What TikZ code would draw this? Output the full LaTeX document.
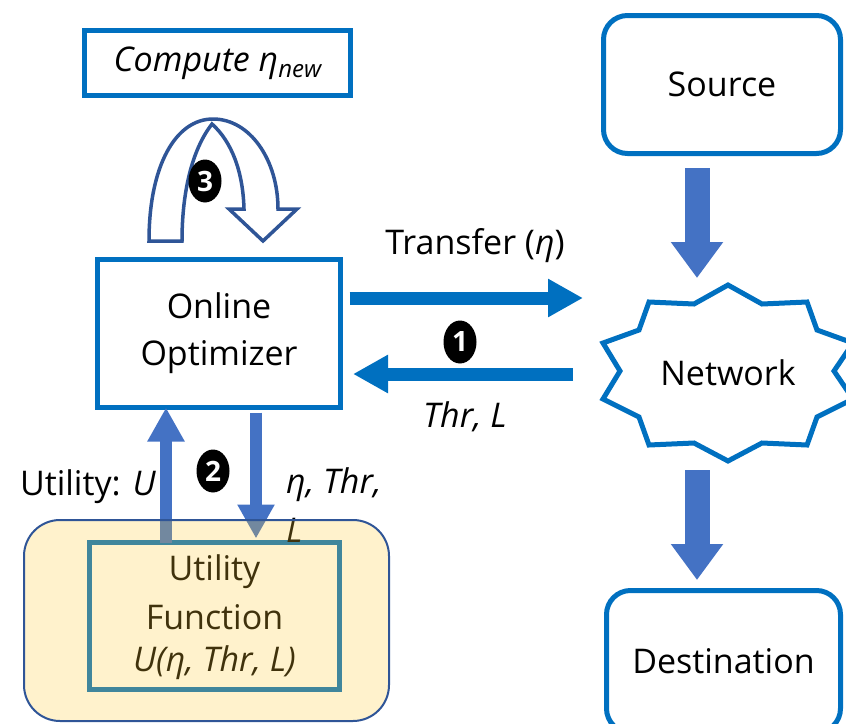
\documentclass[tikz,border=0pt]{standalone}
\usepackage{fontspec}
\setmainfont{Open Sans}
\usetikzlibrary{arrows.meta,shapes.geometric,calc}
\definecolor{boxblue}{HTML}{0070C0}
\definecolor{arrblue}{HTML}{4472C4}
\definecolor{darkblue}{HTML}{2F5597}
\definecolor{yellowov}{HTML}{FFCB33}
\begin{document}
\begin{tikzpicture}[x=1pt,y=-1pt,
  every node/.style={font=\fontsize{34}{47}\selectfont, text=black},
  bluebox/.style={draw=boxblue, line width=5pt, inner sep=0pt, outer sep=0pt, align=center},
  roundbox/.style={bluebox, rounded corners=24pt},
  fatarrow/.style={draw=arrblue, line width=25pt, -{Triangle[length=36pt,width=50pt]}},
  midarrow/.style={draw=arrblue, line width=12pt, -{Triangle[length=34pt,width=35pt]}},
  flowarrow/.style={draw=boxblue, line width=13pt, -{Triangle[length=35pt,width=36pt]}},
  badge/.style={ellipse, fill=black, minimum width=33pt, minimum height=43pt, inner sep=0pt,
     text=white, font=\fontsize{28}{28}\selectfont\bfseries},
  lbl/.style={inner sep=0pt}
]
\useasboundingbox (0,0) rectangle (846,723);

% nodes
\node[bluebox, minimum width=266pt, minimum height=65pt] (compute) at (217.5,63)
  {\itshape Compute η\raisebox{-0.35ex}{\fontsize{24}{24}\selectfont new}};
\node[bluebox, minimum width=243pt, minimum height=148pt] (opt) at (219,333.5) {Online\\Optimizer};
\node[roundbox, minimum width=237pt, minimum height=138pt] (source) at (722,84.5) {Source};
\node[roundbox, minimum width=234pt, minimum height=142pt] (dest) at (723.5,661.5) {Destination};

% network star
\draw[boxblue, line width=5pt, line join=miter, fill=white]
  (728,285) -- (762,304) -- (807,302) -- (817,330) -- (853,343) -- (834,371) -- (853,399)
  -- (817,417) -- (807,445) -- (762,443) -- (728,461) -- (694,443) -- (649,445) -- (639,417)
  -- (603,399) -- (620,371) -- (603,343) -- (639,330) -- (649,302) -- (694,304) -- cycle;
\node[lbl] (net) at (728,373) {Network};
\coordinate (netL) at (603,373);
\coordinate (netT) at (728,285);
\coordinate (netB) at (728,461);

% vertical flow arrows
\draw[fatarrow] ($(source.south)+(-25,14.5)$) -- ($(netT)+(-31,-7)$);
\draw[fatarrow] ($(netB)+(-31,9)$) -- ($(dest.north)+(-26.5,-10.5)$);

% transfer arrows
\draw[flowarrow] ($(opt.east)+(9,-35.5)$) -- ($(netL)+(-20,-75)$);
\draw[flowarrow] ($(netL)+(-30,1)$) -- ($(opt.east)+(12.5,40.5)$);
\node[lbl] (transfer) at (475,246) {Transfer (\textit{η})};
\node[lbl] (thrl) at (465,417) {\itshape Thr, L};
\node[badge] (b1) at (460,342) {1};

% U-turn arrow
\draw[darkblue, line width=3.5pt, line join=miter, fill=white]
  (149,241) .. controls (149,165) and (176,119) .. (213,119)
  .. controls (250,119) and (278,160) .. (278,209) -- (297,209) -- (263,241) -- (229,209) -- (244,209)
  .. controls (243,172) and (232,142) .. (212,124)
  .. controls (194,147) and (182,187) .. (182,241) -- cycle;
\node[badge] (b3) at (205,181) {3};

% utility function box
\node[bluebox, minimum width=250pt, minimum height=147pt] (inner) at (214.5,616) {};
\node[lbl] (u1) at (214.5,572) {Utility};
\node[lbl] (u2) at (214.5,617) {Function};
\node[lbl] (u3) at (214.5,663) {\itshape U(η, Thr, L)};

\draw[midarrow] ($(inner.north)+(-48.5,0)$) -- ($(opt.south)+(-53,0)$);
\draw[midarrow] ($(opt.south)+(37,5)$) -- ($(inner.north)+(41.5,-4)$);
\node[badge] (b2) at (213,471) {2};
\node[lbl] (utilU) at (88,487) {Utility: \textit{U}};
\node[lbl, anchor=west] (params) at (286,485) {\itshape η, Thr,};
\node[lbl, anchor=west] (paramL) at (286,530) {\itshape L};

% translucent outer box
\node[draw=darkblue, line width=2pt, fill=yellowov, fill opacity=0.25, draw opacity=1,
  rounded corners=36pt, minimum width=365pt, minimum height=201pt, inner sep=0pt, outer sep=0pt]
  (outer) at (206.5,620.5) {};
\end{tikzpicture}
\end{document}
